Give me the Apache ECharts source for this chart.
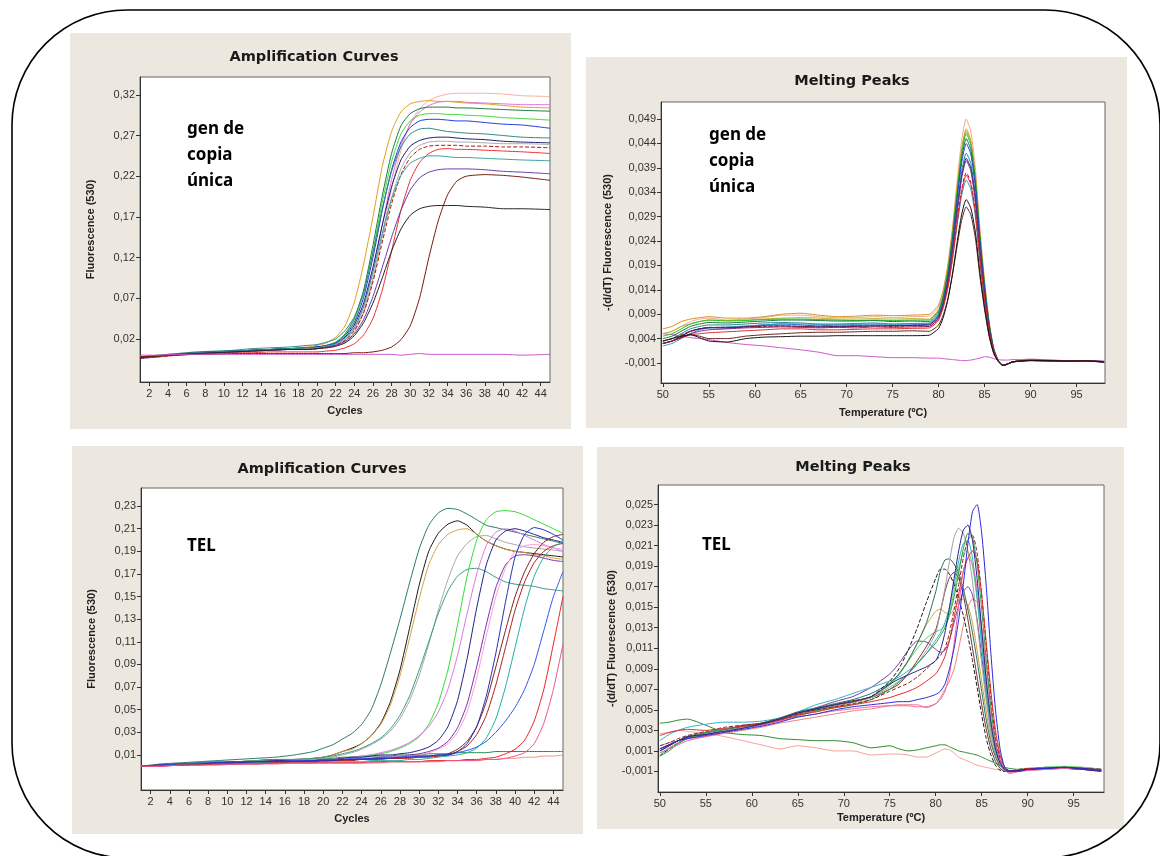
<!DOCTYPE html>
<html>
<head>
<meta charset="utf-8">
<script src="https://cdn.jsdelivr.net/npm/echarts@6/dist/echarts.min.js"></script>
<style>
  html, body { margin: 0; background: #fff; }
  #main { width: 1160px; height: 856px; }
</style>
</head>
<body>
<div id="main"></div>
<script>
// ---- panel 1: amplification, gen de copia única ----
const genAmpCycles = [1,3,5,7,9,11,13,15,17,19,20,21,22,23,24,25,26,27,28,29,30,31,32,33,34,35,36,38,40,42,45];
const genAmpOrange  = [-0.002,0.000,0.002,0.003,0.004,0.005,0.006,0.007,0.008,0.010,0.012,0.015,0.022,0.036,0.065,0.112,0.170,0.232,0.275,0.299,0.309,0.312,0.313,0.312,0.312,0.311,0.310,0.309,0.307,0.305,0.304];
const genAmpDkGreen = [-0.003,-0.001,0.001,0.003,0.004,0.005,0.006,0.007,0.008,0.009,0.010,0.012,0.016,0.026,0.045,0.080,0.135,0.196,0.248,0.282,0.297,0.303,0.305,0.305,0.305,0.304,0.304,0.303,0.302,0.301,0.300];
const genAmpGreen   = [-0.003,-0.001,0.001,0.002,0.004,0.005,0.006,0.007,0.008,0.009,0.010,0.012,0.016,0.025,0.043,0.076,0.128,0.188,0.238,0.272,0.288,0.295,0.297,0.297,0.296,0.296,0.295,0.294,0.292,0.291,0.289];
const genAmpBlue    = [-0.004,-0.002,0.001,0.003,0.004,0.005,0.006,0.007,0.008,0.009,0.010,0.012,0.015,0.024,0.040,0.071,0.120,0.178,0.228,0.262,0.280,0.288,0.290,0.290,0.289,0.288,0.288,0.286,0.284,0.283,0.279];
const genAmpTeal    = [-0.002,0.000,0.002,0.004,0.005,0.006,0.008,0.009,0.010,0.012,0.013,0.016,0.020,0.030,0.047,0.078,0.126,0.180,0.226,0.256,0.272,0.278,0.279,0.277,0.275,0.274,0.273,0.272,0.270,0.268,0.267];
const genAmpNavy    = [-0.003,-0.001,0.001,0.003,0.004,0.005,0.006,0.007,0.008,0.009,0.010,0.011,0.014,0.022,0.037,0.064,0.108,0.160,0.207,0.240,0.257,0.264,0.267,0.268,0.268,0.267,0.266,0.265,0.263,0.262,0.261];
const genAmpGray    = [-0.003,-0.001,0.001,0.002,0.003,0.004,0.005,0.006,0.007,0.008,0.009,0.011,0.013,0.019,0.032,0.055,0.095,0.145,0.193,0.229,0.249,0.258,0.262,0.263,0.263,0.262,0.262,0.261,0.260,0.260,0.259];
const genAmpDkRed   = [-0.004,-0.002,0.000,0.002,0.003,0.004,0.005,0.006,0.007,0.007,0.008,0.010,0.012,0.018,0.030,0.052,0.090,0.139,0.186,0.222,0.243,0.253,0.257,0.258,0.258,0.258,0.257,0.257,0.256,0.256,0.255];
const genAmpRed     = [-0.003,-0.002,0.000,0.001,0.002,0.003,0.003,0.004,0.004,0.004,0.004,0.005,0.006,0.009,0.014,0.025,0.045,0.080,0.128,0.178,0.215,0.237,0.248,0.253,0.254,0.253,0.253,0.252,0.251,0.250,0.248];
const genAmpCadet   = [-0.003,-0.001,0.001,0.003,0.004,0.005,0.006,0.007,0.008,0.009,0.009,0.011,0.014,0.021,0.034,0.060,0.102,0.150,0.192,0.221,0.236,0.242,0.245,0.245,0.244,0.243,0.243,0.242,0.241,0.240,0.239];
const genAmpPurple  = [-0.003,-0.001,0.001,0.002,0.003,0.004,0.005,0.006,0.007,0.007,0.008,0.010,0.012,0.017,0.026,0.044,0.072,0.108,0.145,0.178,0.203,0.218,0.225,0.228,0.229,0.229,0.229,0.228,0.226,0.225,0.223];
const genAmpBlack   = [-0.003,-0.001,0.001,0.002,0.003,0.004,0.005,0.006,0.007,0.007,0.008,0.009,0.011,0.015,0.024,0.040,0.064,0.095,0.128,0.155,0.172,0.180,0.183,0.184,0.184,0.184,0.183,0.182,0.180,0.180,0.179];
const genAmpBrown   = [-0.002,-0.001,0.000,0.001,0.001,0.002,0.002,0.002,0.002,0.002,0.002,0.002,0.002,0.002,0.003,0.003,0.004,0.006,0.010,0.019,0.036,0.070,0.120,0.165,0.197,0.214,0.220,0.222,0.221,0.219,0.215];
const genAmpSalmon  = [-0.003,-0.001,0.001,0.002,0.003,0.004,0.005,0.006,0.007,0.007,0.008,0.009,0.011,0.016,0.028,0.052,0.093,0.148,0.205,0.252,0.285,0.303,0.313,0.318,0.321,0.322,0.322,0.322,0.321,0.319,0.318];
const genAmpViolet  = [-0.003,-0.001,0.001,0.003,0.004,0.005,0.006,0.007,0.008,0.008,0.009,0.011,0.013,0.019,0.033,0.060,0.104,0.160,0.216,0.258,0.284,0.299,0.307,0.311,0.312,0.312,0.311,0.310,0.309,0.308,0.308];
const genAmpMagenta = [0.000,0.000,0.001,0.001,0.001,0.001,0.001,0.001,0.001,0.001,0.001,0.001,0.001,0.001,0.001,0.001,0.001,0.001,0.001,0.000,0.001,0.002,0.001,0.001,0.001,0.001,0.001,0.001,0.001,0.000,0.001];
const genAmpXTicks = [2,4,6,8,10,12,14,16,18,20,22,24,26,28,30,32,34,36,38,40,42,44];
const genAmpYTicks = [0.02,0.07,0.12,0.17,0.22,0.27,0.32];

// ---- panel 2: melting peaks, gen de copia única ----
const genMeltTemp = [50,51,52,53,54,55,57,59,61,63,65,67,69,71,73,75,77,79,79.5,80,80.5,81,81.5,82,82.5,83,83.5,84,84.5,85,85.5,86,86.5,87,87.5,88,89,90,92,94,96,98];
const genMeltSalmon  = [0.005,0.0055,0.0065,0.0075,0.008,0.0082,0.0078,0.008,0.0083,0.0088,0.0088,0.0085,0.0083,0.0083,0.0085,0.0083,0.0085,0.0086,0.0093,0.0105,0.0137,0.019,0.0267,0.036,0.0445,0.049,0.0465,0.039,0.0265,0.016,0.0075,0.002,-0.0005,-0.0015,-0.0012,-0.0008,-0.0005,-0.0003,-0.0004,-0.0005,-0.0005,-0.0007];
const genMeltOrange  = [0.006,0.0065,0.0075,0.008,0.0083,0.0085,0.0082,0.0082,0.0085,0.009,0.0092,0.0088,0.0085,0.0086,0.0088,0.0087,0.0088,0.009,0.0098,0.0109,0.0139,0.0189,0.0261,0.0348,0.0428,0.047,0.0446,0.0374,0.0254,0.0153,0.0072,0.0019,-0.0005,-0.0015,-0.0012,-0.0008,-0.0006,-0.0004,-0.0005,-0.0006,-0.0005,-0.0008];
const genMeltOlive   = [0.005,0.0055,0.0065,0.007,0.0075,0.0078,0.0077,0.0078,0.008,0.0082,0.0083,0.0082,0.008,0.008,0.0081,0.008,0.0081,0.008,0.0088,0.0099,0.013,0.018,0.0253,0.0342,0.0423,0.0465,0.0441,0.037,0.0251,0.0152,0.0071,0.0019,-0.0005,-0.0014,-0.0012,-0.0008,-0.0005,-0.0004,-0.0005,-0.0005,-0.0006,-0.0007];
const genMeltGreen   = [0.0045,0.005,0.006,0.007,0.0075,0.0078,0.0076,0.0077,0.0079,0.008,0.008,0.0079,0.0078,0.0077,0.0078,0.0077,0.0078,0.0078,0.0086,0.0097,0.0128,0.0177,0.025,0.0338,0.0418,0.046,0.0437,0.0366,0.0249,0.015,0.007,0.0018,-0.0005,-0.0015,-0.0013,-0.0008,-0.0005,-0.0004,-0.0004,-0.0006,-0.0005,-0.0008];
const genMeltDkGreen = [0.004,0.0045,0.0055,0.0065,0.007,0.0073,0.0072,0.0074,0.0076,0.0078,0.0078,0.0077,0.0076,0.0076,0.0077,0.0075,0.0076,0.0075,0.0083,0.0094,0.0124,0.0173,0.0244,0.033,0.0409,0.045,0.0427,0.0358,0.0243,0.0146,0.0068,0.0018,-0.0005,-0.0014,-0.0012,-0.0008,-0.0006,-0.0004,-0.0005,-0.0005,-0.0006,-0.0008];
const genMeltBlue    = [0.003,0.0035,0.0045,0.0055,0.006,0.0063,0.0062,0.0065,0.0068,0.007,0.0068,0.0066,0.0068,0.0067,0.0068,0.0067,0.0068,0.007,0.0077,0.0089,0.0118,0.0166,0.0237,0.0322,0.0399,0.044,0.0418,0.035,0.0238,0.0143,0.0067,0.0017,-0.0006,-0.0015,-0.0012,-0.0008,-0.0006,-0.0005,-0.0006,-0.0007,-0.0005,-0.0007];
const genMeltTeal    = [0.0035,0.004,0.005,0.006,0.0065,0.0068,0.0068,0.007,0.0072,0.0073,0.0072,0.007,0.007,0.0071,0.0072,0.007,0.0071,0.0072,0.0079,0.009,0.0117,0.0162,0.0229,0.0309,0.0382,0.042,0.0399,0.0334,0.0227,0.0136,0.0063,0.0016,-0.0006,-0.0015,-0.0012,-0.0008,-0.0005,-0.0004,-0.0005,-0.0006,-0.0006,-0.0007];
const genMeltNavy    = [0.003,0.0035,0.0045,0.0055,0.006,0.0062,0.0062,0.0064,0.0066,0.0066,0.0065,0.0064,0.0065,0.0065,0.0066,0.0066,0.0067,0.0068,0.0075,0.0085,0.0112,0.0157,0.0222,0.0301,0.0372,0.041,0.0389,0.0326,0.0221,0.0133,0.0061,0.0015,-0.0006,-0.0015,-0.0012,-0.0008,-0.0006,-0.0005,-0.0005,-0.0006,-0.0006,-0.0008];
const genMeltPurple  = [0.003,0.0035,0.0042,0.005,0.0055,0.0058,0.006,0.0062,0.0063,0.0064,0.0063,0.0062,0.0063,0.0062,0.0064,0.0063,0.0064,0.0065,0.0072,0.0082,0.0109,0.0153,0.0218,0.0296,0.0368,0.0405,0.0384,0.0322,0.0218,0.0131,0.0061,0.0015,-0.0006,-0.0015,-0.0012,-0.0008,-0.0005,-0.0004,-0.0005,-0.0006,-0.0006,-0.0007];
const genMeltDkRed   = [0.0035,0.004,0.0048,0.0055,0.006,0.0063,0.0063,0.0064,0.0065,0.0066,0.0065,0.0064,0.0064,0.0065,0.0066,0.0065,0.0066,0.0065,0.0071,0.0081,0.0106,0.0147,0.0207,0.0279,0.0345,0.038,0.0361,0.0302,0.0205,0.0123,0.0056,0.0013,-0.0006,-0.0015,-0.0012,-0.0008,-0.0006,-0.0005,-0.0005,-0.0006,-0.0005,-0.0008];
const genMeltRed     = [0.003,0.0035,0.0042,0.0048,0.005,0.0052,0.0054,0.0056,0.0058,0.006,0.006,0.0058,0.0058,0.0059,0.006,0.006,0.0061,0.0062,0.0068,0.0078,0.0103,0.0143,0.0203,0.0275,0.0341,0.0375,0.0356,0.0298,0.0202,0.0121,0.0055,0.0013,-0.0006,-0.0015,-0.0012,-0.0008,-0.0005,-0.0005,-0.0006,-0.0006,-0.0006,-0.0008];
const genMeltCyan    = [0.0025,0.003,0.004,0.005,0.0058,0.0062,0.0064,0.0066,0.0068,0.007,0.007,0.0069,0.0068,0.0069,0.007,0.0069,0.007,0.007,0.0076,0.0085,0.0108,0.0147,0.0203,0.0271,0.0333,0.0365,0.0346,0.029,0.0196,0.0118,0.0054,0.0013,-0.0006,-0.0015,-0.0012,-0.0008,-0.0006,-0.0004,-0.0005,-0.0006,-0.0006,-0.0007];
const genMeltBlack   = [0.0035,0.004,0.0045,0.0048,0.0042,0.0035,0.0033,0.004,0.0043,0.0044,0.0045,0.0045,0.0046,0.0046,0.0046,0.0046,0.0046,0.0047,0.0053,0.0061,0.0083,0.0119,0.0172,0.0236,0.0294,0.0325,0.0308,0.0258,0.0174,0.0104,0.0047,0.001,-0.0007,-0.0015,-0.0012,-0.0008,-0.0006,-0.0005,-0.0005,-0.0006,-0.0006,-0.0008];
const genMeltBrown   = [0.003,0.0035,0.0042,0.0048,0.0045,0.004,0.004,0.0045,0.0048,0.005,0.0052,0.0053,0.0053,0.0054,0.0055,0.0055,0.0056,0.0055,0.006,0.0068,0.0088,0.0121,0.017,0.0228,0.0282,0.031,0.0294,0.0246,0.0166,0.0099,0.0044,0.0009,-0.0007,-0.0015,-0.0012,-0.0008,-0.0005,-0.0005,-0.0006,-0.0006,-0.0005,-0.0008];
const genMeltMagenta = [0.005,0.0048,0.0045,0.0042,0.004,0.0038,0.0032,0.0028,0.0025,0.0021,0.0017,0.0012,0.0005,0.0005,0.0003,0.0001,0.0001,0.0,0.0,0.0,-0.0001,-0.0002,-0.0003,-0.0004,-0.0005,-0.0005,-0.0004,-0.0002,0.0,0.0003,0.0002,-0.0001,-0.0003,-0.0004,-0.0004,-0.0003,-0.0003,-0.0002,-0.0004,-0.0005,-0.0005,-0.0006];
const meltXTicks = [50,55,60,65,70,75,80,85,90,95];
const genMeltYTicks = [-0.001,0.004,0.009,0.014,0.019,0.024,0.029,0.034,0.039,0.044,0.049];

// ---- panel 3: amplification, TEL ----
const telAmpCycles = [1,3,5,7,9,11,13,15,17,19,20,21,22,23,24,25,26,27,28,29,30,31,32,33,34,35,36,37,38,39,40,41,42,43,44,45];
const telAmpTeal    = [0.000,0.002,0.003,0.004,0.005,0.006,0.007,0.008,0.010,0.013,0.016,0.019,0.024,0.029,0.037,0.050,0.072,0.100,0.130,0.162,0.192,0.213,0.224,0.228,0.227,0.223,0.218,0.213,0.211,0.209,0.207,0.205,0.203,0.201,0.199,0.197];
const telAmpBlack   = [0.000,0.001,0.002,0.003,0.004,0.004,0.005,0.006,0.006,0.007,0.008,0.010,0.013,0.016,0.020,0.027,0.038,0.057,0.085,0.122,0.160,0.190,0.206,0.214,0.217,0.213,0.205,0.199,0.195,0.192,0.190,0.189,0.188,0.187,0.186,0.185];
const telAmpOrange  = [0.000,0.001,0.002,0.003,0.004,0.004,0.005,0.005,0.006,0.007,0.008,0.010,0.013,0.015,0.020,0.027,0.037,0.054,0.080,0.113,0.148,0.178,0.196,0.205,0.209,0.210,0.205,0.199,0.195,0.192,0.190,0.189,0.187,0.186,0.184,0.183];
const telAmpGray    = [0.000,0.001,0.002,0.003,0.003,0.004,0.005,0.005,0.006,0.006,0.007,0.008,0.010,0.012,0.015,0.019,0.024,0.031,0.042,0.058,0.080,0.108,0.138,0.165,0.186,0.197,0.203,0.204,0.201,0.198,0.196,0.194,0.193,0.192,0.191,0.190];
const telAmpTeal2   = [0.000,0.001,0.002,0.003,0.004,0.004,0.005,0.006,0.006,0.007,0.008,0.009,0.011,0.013,0.016,0.020,0.025,0.033,0.045,0.062,0.085,0.110,0.135,0.155,0.168,0.174,0.175,0.172,0.167,0.163,0.161,0.160,0.159,0.157,0.156,0.155];
const telAmpGreen   = [0.000,0.001,0.002,0.003,0.003,0.003,0.004,0.004,0.004,0.005,0.006,0.006,0.007,0.008,0.009,0.010,0.011,0.013,0.016,0.020,0.026,0.037,0.056,0.085,0.125,0.168,0.200,0.218,0.225,0.226,0.225,0.222,0.218,0.214,0.210,0.206];
const telAmpViolet  = [0.000,0.001,0.001,0.002,0.003,0.003,0.004,0.004,0.005,0.005,0.006,0.006,0.007,0.008,0.009,0.010,0.012,0.014,0.017,0.021,0.027,0.035,0.048,0.068,0.098,0.135,0.170,0.195,0.207,0.210,0.208,0.204,0.200,0.196,0.193,0.190];
const telAmpNavy    = [0.000,0.001,0.002,0.002,0.003,0.004,0.004,0.005,0.005,0.005,0.006,0.006,0.007,0.008,0.008,0.009,0.010,0.010,0.011,0.012,0.014,0.017,0.023,0.035,0.058,0.095,0.140,0.178,0.200,0.208,0.210,0.208,0.205,0.202,0.200,0.198];
const telAmpPurple  = [0.000,0.001,0.001,0.002,0.003,0.003,0.003,0.004,0.004,0.005,0.005,0.005,0.006,0.006,0.007,0.007,0.008,0.008,0.009,0.010,0.011,0.013,0.016,0.022,0.034,0.055,0.088,0.125,0.158,0.178,0.186,0.187,0.186,0.184,0.182,0.181];
const telAmpPink    = [0.000,0.000,0.001,0.002,0.002,0.003,0.003,0.004,0.004,0.004,0.005,0.005,0.006,0.006,0.007,0.007,0.008,0.008,0.009,0.009,0.010,0.012,0.015,0.020,0.030,0.048,0.078,0.115,0.150,0.175,0.190,0.195,0.196,0.195,0.193,0.192];
const telAmpBrown   = [0.000,0.001,0.002,0.002,0.003,0.003,0.004,0.004,0.004,0.004,0.005,0.005,0.005,0.006,0.006,0.006,0.007,0.007,0.007,0.008,0.008,0.009,0.009,0.011,0.015,0.022,0.035,0.057,0.088,0.120,0.150,0.172,0.188,0.198,0.203,0.205];
const telAmpDkRed   = [0.000,0.001,0.001,0.002,0.002,0.003,0.003,0.003,0.004,0.004,0.004,0.005,0.005,0.005,0.006,0.006,0.006,0.007,0.007,0.007,0.008,0.008,0.009,0.010,0.013,0.018,0.028,0.045,0.072,0.105,0.138,0.163,0.180,0.190,0.195,0.197];
const telAmpCyan    = [0.000,0.001,0.001,0.002,0.002,0.002,0.003,0.003,0.003,0.003,0.004,0.004,0.004,0.004,0.004,0.005,0.005,0.005,0.005,0.006,0.006,0.007,0.008,0.009,0.010,0.012,0.016,0.025,0.042,0.070,0.105,0.140,0.168,0.185,0.194,0.198];
const telAmpBlue    = [0.000,0.001,0.002,0.003,0.003,0.004,0.004,0.004,0.005,0.005,0.006,0.006,0.006,0.007,0.007,0.007,0.008,0.008,0.008,0.009,0.009,0.009,0.010,0.010,0.012,0.014,0.017,0.022,0.030,0.040,0.052,0.068,0.090,0.120,0.150,0.172];
const telAmpBlue2   = [0.000,0.001,0.001,0.002,0.003,0.003,0.004,0.004,0.004,0.005,0.005,0.005,0.006,0.006,0.006,0.007,0.007,0.007,0.008,0.008,0.009,0.009,0.010,0.010,0.013,0.020,0.035,0.062,0.100,0.145,0.185,0.205,0.211,0.209,0.205,0.200];
const telAmpRed     = [0.000,0.000,0.001,0.001,0.002,0.002,0.002,0.003,0.003,0.003,0.003,0.003,0.003,0.003,0.003,0.004,0.004,0.004,0.004,0.004,0.004,0.005,0.005,0.005,0.005,0.006,0.006,0.007,0.008,0.011,0.015,0.023,0.040,0.068,0.108,0.150];
const telAmpPink2   = [0.000,0.000,0.001,0.001,0.001,0.002,0.002,0.002,0.003,0.003,0.003,0.003,0.003,0.003,0.003,0.003,0.003,0.004,0.004,0.004,0.004,0.004,0.004,0.005,0.005,0.005,0.005,0.006,0.006,0.007,0.009,0.012,0.020,0.038,0.068,0.108];
const telAmpDkGreen = [0.000,0.001,0.002,0.003,0.004,0.004,0.005,0.005,0.006,0.006,0.007,0.007,0.008,0.008,0.008,0.009,0.009,0.009,0.010,0.010,0.010,0.011,0.011,0.011,0.012,0.012,0.012,0.012,0.013,0.013,0.013,0.013,0.013,0.013,0.013,0.013];
const telAmpSalmon  = [0.000,0.001,0.001,0.002,0.002,0.002,0.002,0.003,0.003,0.003,0.003,0.003,0.003,0.003,0.003,0.003,0.004,0.004,0.004,0.004,0.004,0.004,0.005,0.005,0.005,0.005,0.005,0.006,0.006,0.007,0.007,0.008,0.008,0.009,0.009,0.010];
const telAmpYTicks = [0.01,0.03,0.05,0.07,0.09,0.11,0.13,0.15,0.17,0.19,0.21,0.23];

// ---- panel 4: melting peaks, TEL ----
const telMeltTemp = [50,51,52,53,55,57,59,61,63,65,67,69,71,73,75,76,77,78,79,80,80.5,81,81.5,82,82.5,83,83.5,84,84.5,85,85.5,86,86.5,87,87.5,88,89,90,92,94,96,98];
const telMeltBlue    = [0.0012,0.0016,0.002,0.0022,0.0025,0.0028,0.0031,0.0034,0.0038,0.0043,0.0046,0.005,0.0053,0.0055,0.0057,0.0058,0.0058,0.006,0.0062,0.0065,0.0068,0.0075,0.009,0.011,0.0138,0.0172,0.0212,0.0243,0.025,0.0222,0.017,0.0105,0.005,0.0012,-0.0006,-0.0009,-0.001,-0.0008,-0.0007,-0.0006,-0.0007,-0.0009];
const telMeltGray    = [0.0008,0.0013,0.0018,0.0022,0.0027,0.003,0.0033,0.0035,0.004,0.0046,0.005,0.0054,0.0058,0.0062,0.0072,0.0078,0.0085,0.0095,0.0108,0.0125,0.0145,0.0168,0.0195,0.0218,0.0227,0.0222,0.0205,0.0175,0.0135,0.0095,0.0058,0.0028,0.0008,-0.0004,-0.0009,-0.001,-0.001,-0.0008,-0.0006,-0.0007,-0.0006,-0.0008];
const telMeltNavy    = [0.001,0.0015,0.002,0.0024,0.0026,0.0029,0.0032,0.0036,0.0041,0.0047,0.0051,0.0055,0.0058,0.0063,0.0075,0.008,0.0084,0.0088,0.0092,0.0098,0.0108,0.0125,0.015,0.0178,0.0205,0.0225,0.023,0.0215,0.0178,0.0128,0.0078,0.0038,0.0012,-0.0002,-0.0008,-0.001,-0.0009,-0.0008,-0.0007,-0.0006,-0.0008,-0.001];
const telMeltGreen   = [0.0005,0.001,0.0017,0.0022,0.0028,0.0031,0.0034,0.0036,0.004,0.0044,0.0049,0.0052,0.0055,0.006,0.007,0.0077,0.0085,0.0095,0.0105,0.0115,0.0122,0.013,0.0142,0.016,0.0183,0.0207,0.0222,0.0218,0.0192,0.0148,0.0098,0.0052,0.0018,0.0,-0.0008,-0.001,-0.0009,-0.0008,-0.0006,-0.0006,-0.0007,-0.0009];
const telMeltDkRed   = [0.0015,0.0018,0.0022,0.0025,0.0029,0.0033,0.0035,0.0036,0.004,0.0046,0.005,0.0053,0.0056,0.006,0.0068,0.0072,0.0076,0.0082,0.009,0.0098,0.0103,0.011,0.0125,0.0148,0.0172,0.0198,0.0216,0.022,0.0203,0.0162,0.0112,0.0062,0.0024,0.0002,-0.0008,-0.001,-0.0008,-0.0007,-0.0007,-0.0006,-0.0007,-0.0008];
const telMeltRed     = [0.0025,0.0028,0.003,0.0031,0.003,0.0032,0.0034,0.0036,0.004,0.0045,0.0048,0.0052,0.0055,0.0058,0.0062,0.0065,0.0068,0.0072,0.0078,0.0085,0.0092,0.0102,0.0118,0.014,0.0163,0.0185,0.0198,0.0205,0.0195,0.0162,0.0115,0.0068,0.003,0.0006,-0.0006,-0.001,-0.0009,-0.0007,-0.0007,-0.0006,-0.0008,-0.0009];
const telMeltDkTeal  = [0.001,0.0015,0.002,0.0024,0.0028,0.0031,0.0033,0.0037,0.0042,0.0048,0.0052,0.0056,0.006,0.0066,0.0076,0.0085,0.0098,0.0115,0.0135,0.0165,0.0185,0.0196,0.0197,0.0192,0.0183,0.0168,0.0148,0.0125,0.0098,0.0068,0.004,0.0018,0.0004,-0.0005,-0.0009,-0.001,-0.0009,-0.0008,-0.0006,-0.0007,-0.0007,-0.0008];
const telMeltBlack   = [0.0005,0.0012,0.0018,0.0022,0.0027,0.003,0.0034,0.0036,0.004,0.0046,0.005,0.0054,0.0058,0.0063,0.0078,0.009,0.0108,0.013,0.0155,0.0178,0.0187,0.0187,0.0182,0.0172,0.0158,0.0142,0.0122,0.0098,0.0072,0.0045,0.0022,0.0006,-0.0004,-0.0009,-0.001,-0.001,-0.0009,-0.0008,-0.0007,-0.0006,-0.0007,-0.0008];
const telMeltBrown   = [0.0012,0.0016,0.002,0.0023,0.0026,0.003,0.0035,0.0037,0.0041,0.0047,0.0051,0.0055,0.0059,0.0062,0.007,0.0075,0.0085,0.0098,0.0112,0.0128,0.0145,0.0165,0.0179,0.0184,0.0178,0.0162,0.0138,0.011,0.0082,0.0055,0.0031,0.0012,0.0,-0.0007,-0.001,-0.001,-0.0009,-0.0008,-0.0007,-0.0007,-0.0008,-0.0009];
const telMeltPink    = [0.0008,0.0012,0.0016,0.002,0.0024,0.0028,0.0032,0.0035,0.0039,0.0043,0.0046,0.0049,0.0051,0.0053,0.0054,0.0054,0.0054,0.0053,0.0053,0.0056,0.006,0.0068,0.0085,0.0115,0.0152,0.0185,0.0198,0.0192,0.0168,0.0128,0.0082,0.0042,0.0015,0.0,-0.0008,-0.0012,-0.001,-0.0009,-0.0008,-0.0007,-0.0008,-0.001];
const telMeltOlive   = [0.001,0.0015,0.002,0.0023,0.0027,0.003,0.0033,0.0036,0.004,0.0045,0.0049,0.0053,0.0057,0.0062,0.0075,0.0085,0.0098,0.0115,0.0133,0.0146,0.0148,0.0145,0.0143,0.0148,0.0156,0.0158,0.0152,0.0135,0.0108,0.0078,0.0048,0.0022,0.0006,-0.0004,-0.0009,-0.001,-0.0009,-0.0008,-0.0007,-0.0006,-0.0006,-0.0008];
const telMeltPurple  = [0.0012,0.0016,0.002,0.0023,0.0027,0.003,0.0033,0.0036,0.004,0.0046,0.0052,0.0058,0.0063,0.0072,0.0085,0.0095,0.0108,0.0117,0.0116,0.0109,0.0106,0.0108,0.0118,0.0135,0.0152,0.0165,0.017,0.0162,0.0138,0.0102,0.0064,0.0031,0.001,-0.0003,-0.0009,-0.001,-0.0009,-0.0008,-0.0007,-0.0007,-0.0008,-0.0009];
const telMeltCyan    = [0.002,0.0026,0.003,0.0033,0.0036,0.0038,0.0038,0.0039,0.0042,0.0048,0.0055,0.006,0.0066,0.0072,0.0078,0.0082,0.0088,0.0095,0.0105,0.0118,0.0125,0.0135,0.015,0.0172,0.0195,0.0212,0.0215,0.0198,0.016,0.0112,0.0066,0.003,0.0008,-0.0004,-0.0009,-0.001,-0.0009,-0.0008,-0.0006,-0.0006,-0.0007,-0.0008];
const telMeltLtGreen = [0.0006,0.0012,0.0018,0.0022,0.0026,0.003,0.0034,0.0037,0.0041,0.0046,0.005,0.0054,0.0058,0.0063,0.0074,0.0084,0.0097,0.011,0.012,0.0126,0.0128,0.0132,0.0145,0.0165,0.0188,0.0203,0.0204,0.019,0.0158,0.0115,0.007,0.0033,0.001,-0.0003,-0.0009,-0.001,-0.0008,-0.0007,-0.0006,-0.0005,-0.0006,-0.0008];
const telMeltRose    = [0.0015,0.0018,0.002,0.0022,0.0024,0.0027,0.003,0.0033,0.0037,0.004,0.0043,0.0046,0.0049,0.0051,0.0054,0.0055,0.0055,0.0055,0.0052,0.0056,0.0062,0.007,0.0078,0.009,0.011,0.0132,0.015,0.0158,0.0155,0.013,0.0092,0.0052,0.002,0.0002,-0.0008,-0.0011,-0.001,-0.0009,-0.0008,-0.0007,-0.0008,-0.0009];
const telMeltFlatGreen  = [0.0037,0.0038,0.004,0.0041,0.0035,0.0028,0.0026,0.0025,0.0022,0.0021,0.002,0.002,0.0018,0.0013,0.0015,0.0012,0.001,0.0011,0.0013,0.0015,0.0016,0.0016,0.0014,0.0012,0.001,0.0009,0.0008,0.0007,0.0006,0.0004,0.0002,0.0,-0.0002,-0.0004,-0.0006,-0.0007,-0.0008,-0.0008,-0.0007,-0.0007,-0.0008,-0.0009];
const telMeltFlatSalmon = [0.0027,0.0028,0.003,0.0029,0.0027,0.0024,0.002,0.0016,0.0012,0.0015,0.0013,0.001,0.001,0.0006,0.0007,0.0007,0.0006,0.0004,0.0004,0.0008,0.001,0.0012,0.0011,0.0008,0.0004,0.0002,0.0,-0.0002,-0.0004,-0.0005,-0.0006,-0.0007,-0.0008,-0.0008,-0.0009,-0.0009,-0.0009,-0.0008,-0.0008,-0.0007,-0.0008,-0.0009];
const telMeltYTicks = [-0.001,0.001,0.003,0.005,0.007,0.009,0.011,0.013,0.015,0.017,0.019,0.021,0.023,0.025];

// ---- styling / assembly ----
const genAmpLines = [
  ['salmon', '#f4b0a0', genAmpSalmon], ['violet', '#e070e0', genAmpViolet],
  ['orange', '#e0a020', genAmpOrange], ['dkgreen', '#1a7a3a', genAmpDkGreen],
  ['green', '#40d840', genAmpGreen], ['blue', '#2238dd', genAmpBlue],
  ['teal', '#2a8a80', genAmpTeal], ['navy', '#1a1a70', genAmpNavy],
  ['gray', '#aaaaaa', genAmpGray], ['dkred', '#aa1111', genAmpDkRed, true],
  ['red', '#ee3030', genAmpRed], ['cadet', '#3aa0a0', genAmpCadet],
  ['purple', '#6a3ab0', genAmpPurple], ['black', '#222222', genAmpBlack],
  ['brown', '#7a1a0a', genAmpBrown], ['magenta', '#cc55cc', genAmpMagenta]
];
const genMeltLines = [
  ['magenta', '#cc55cc', genMeltMagenta], ['salmon', '#f4a890', genMeltSalmon],
  ['orange', '#d89020', genMeltOrange], ['olive', '#b8b020', genMeltOlive],
  ['green', '#22c022', genMeltGreen], ['dkgreen', '#107840', genMeltDkGreen],
  ['blue', '#2244dd', genMeltBlue], ['teal', '#208888', genMeltTeal],
  ['cyan', '#3399cc', genMeltCyan], ['navy', '#1a1a80', genMeltNavy],
  ['purple', '#7a2a8a', genMeltPurple], ['dkred', '#a01020', genMeltDkRed, true],
  ['red', '#e02a2a', genMeltRed], ['brown', '#6a2020', genMeltBrown],
  ['black', '#111111', genMeltBlack]
];
const telAmpLines = [
  ['salmon', '#f49080', telAmpSalmon], ['dkgreen', '#228844', telAmpDkGreen],
  ['teal', '#2a7a6a', telAmpTeal], ['black', '#1a1a1a', telAmpBlack],
  ['orange', '#d8a040', telAmpOrange], ['gray', '#a8a8a8', telAmpGray],
  ['teal2', '#3a9a8a', telAmpTeal2], ['green', '#33dd33', telAmpGreen],
  ['violet', '#dd77dd', telAmpViolet], ['navy', '#222288', telAmpNavy],
  ['purple', '#7733aa', telAmpPurple], ['pink', '#ff99dd', telAmpPink],
  ['brown', '#802020', telAmpBrown], ['dkred', '#aa2222', telAmpDkRed],
  ['cyan', '#22b0a0', telAmpCyan], ['blue', '#3355ee', telAmpBlue],
  ['blue2', '#2233bb', telAmpBlue2], ['red', '#ee2222', telAmpRed],
  ['pink2', '#ee5588', telAmpPink2]
];
const telMeltLines = [
  ['flatSalmon', '#f4a090', telMeltFlatSalmon], ['flatGreen', '#2a8a2a', telMeltFlatGreen],
  ['rose', '#f08080', telMeltRose], ['olive', '#c8a838', telMeltOlive],
  ['purple', '#7a3a9a', telMeltPurple], ['ltgreen', '#5ad060', telMeltLtGreen],
  ['cyan', '#30b0c8', telMeltCyan], ['dkteal', '#2a7060', telMeltDkTeal],
  ['black', '#181818', telMeltBlack, true], ['brown', '#7a3030', telMeltBrown],
  ['gray', '#a0a0a0', telMeltGray], ['green', '#2aa050', telMeltGreen],
  ['dkred', '#8a2020', telMeltDkRed, true], ['red', '#e02828', telMeltRed],
  ['pink', '#f060a8', telMeltPink], ['navy', '#22228a', telMeltNavy],
  ['blue', '#2a2ad8', telMeltBlue]
];

function lines(idx, xs, list) {
  return list.map(function (l) {
    return {
      type: 'line', name: l[0], xAxisIndex: idx, yAxisIndex: idx,
      data: xs.map(function (x, i) { return [x, l[2][i]]; }),
      showSymbol: false, symbol: 'none', smooth: 0.2, silent: true,
      lineStyle: { color: l[1], width: 1, type: l[3] ? [4, 2] : 'solid' },
      itemStyle: { color: l[1] }
    };
  });
}
function fmt(d) { return function (v) { return v.toFixed(d).replace('.', ','); }; }

const tickFont = { fontFamily: 'Liberation Sans', fontSize: 11, color: '#333' };
const nameFont = { fontFamily: 'Liberation Sans', fontSize: 11, fontWeight: 'bold', color: '#222' };
function xAx(idx, min, max, ticks, name, gap) {
  return {
    type: 'value', gridIndex: idx, min: min, max: max,
    name: name, nameLocation: 'middle', nameGap: gap, nameTextStyle: nameFont,
    axisLine: { show: true, onZero: false, lineStyle: { color: '#333' } },
    axisTick: { show: true, length: 4, customValues: ticks, lineStyle: { color: '#333' } },
    axisLabel: Object.assign({ customValues: ticks, margin: 6 }, tickFont),
    splitLine: { show: false }
  };
}
function yAx(idx, min, max, ticks, dec, name, gap) {
  return {
    type: 'value', gridIndex: idx, min: min, max: max,
    name: name, nameLocation: 'middle', nameGap: gap, nameTextStyle: nameFont,
    axisLine: { show: true, onZero: false, lineStyle: { color: '#333' } },
    axisTick: { show: true, length: 4, customValues: ticks, lineStyle: { color: '#333' } },
    axisLabel: Object.assign({ customValues: ticks, margin: 5, formatter: fmt(dec) }, tickFont),
    splitLine: { show: false }
  };
}
const gridBase = { show: true, backgroundColor: '#ffffff', borderColor: '#666', borderWidth: 1 };
const titleFont = { fontFamily: 'DejaVu Sans', fontWeight: 'bold', fontSize: 14.5, color: '#1a1a1a' };
const noteFont = 'bold 17px "Noto Sans"';
const beige = '#ede8df';

const chart = echarts.init(document.getElementById('main'));
chart.setOption({
  animation: false,
  backgroundColor: '#ffffff',
  title: [
    { text: 'Amplification Curves', left: 314, top: 50, textAlign: 'center', padding: 0, textStyle: titleFont },
    { text: 'Melting Peaks', left: 852, top: 74, textAlign: 'center', padding: 0, textStyle: titleFont },
    { text: 'Amplification Curves', left: 322, top: 462, textAlign: 'center', padding: 0, textStyle: titleFont },
    { text: 'Melting Peaks', left: 853, top: 460, textAlign: 'center', padding: 0, textStyle: titleFont }
  ],
  graphic: [
    { type: 'rect', z: -10, shape: { x: 70, y: 33, width: 501, height: 396 }, style: { fill: beige } },
    { type: 'rect', z: -10, shape: { x: 586, y: 57, width: 541, height: 371 }, style: { fill: beige } },
    { type: 'rect', z: -10, shape: { x: 72, y: 446, width: 511, height: 388 }, style: { fill: beige } },
    { type: 'rect', z: -10, shape: { x: 597, y: 447, width: 527, height: 382 }, style: { fill: beige } },
    { type: 'rect', z: 50, shape: { x: 12, y: 10, width: 1148, height: 848, r: 115 }, style: { fill: 'none', stroke: '#000', lineWidth: 1.6 } },
    { type: 'text', z: 50, x: 187, y: 116, style: { text: 'gen de\ncopia\núnica', font: noteFont, lineHeight: 26, fill: '#000' } },
    { type: 'text', z: 50, x: 709, y: 122, style: { text: 'gen de\ncopia\núnica', font: noteFont, lineHeight: 26, fill: '#000' } },
    { type: 'text', z: 50, x: 187, y: 533, style: { text: 'TEL', font: noteFont, lineHeight: 26, fill: '#000' } },
    { type: 'text', z: 50, x: 702, y: 532, style: { text: 'TEL', font: noteFont, lineHeight: 26, fill: '#000' } }
  ],
  grid: [
    Object.assign({ left: 140, top: 77, width: 410, height: 305 }, gridBase),
    Object.assign({ left: 661, top: 102, width: 444, height: 281 }, gridBase),
    Object.assign({ left: 141, top: 488, width: 422, height: 302 }, gridBase),
    Object.assign({ left: 658, top: 485, width: 446, height: 307 }, gridBase)
  ],
  xAxis: [
    xAx(0, 1, 45, genAmpXTicks, 'Cycles', 23),
    xAx(1, 49.8, 98.1, meltXTicks, 'Temperature (ºC)', 24),
    xAx(2, 1, 45, genAmpXTicks, 'Cycles', 23),
    xAx(3, 49.8, 98.3, meltXTicks, 'Temperature (ºC)', 20)
  ],
  yAxis: [
    yAx(0, -0.033, 0.342, genAmpYTicks, 2, 'Fluorescence (530)', 44),
    yAx(1, -0.0051, 0.0525, genMeltYTicks, 3, '-(d/dT) Fluorescence (530)', 48),
    yAx(2, -0.021, 0.246, telAmpYTicks, 2, 'Fluorescence (530)', 44),
    yAx(3, -0.0030, 0.0269, telMeltYTicks, 3, '-(d/dT) Fluorescence (530)', 39)
  ],
  series: [].concat(
    lines(0, genAmpCycles, genAmpLines),
    lines(1, genMeltTemp, genMeltLines),
    lines(2, telAmpCycles, telAmpLines),
    lines(3, telMeltTemp, telMeltLines)
  )
});
</script>
</body>
</html>
